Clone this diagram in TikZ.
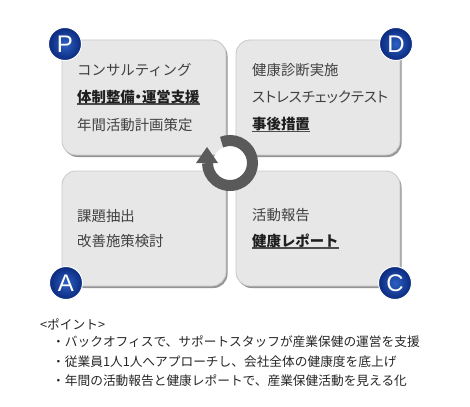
\documentclass[tikz,border=0pt]{standalone}
\usepackage{fontspec}
\usetikzlibrary{positioning,shadows}
\newfontfamily\jpfont{Noto Sans CJK JP}
\newfontfamily\jpprop{Noto Sans CJK JP}[RawFeature=+palt]
\newfontfamily\badgefont{Liberation Sans}
\definecolor{BoxFill}{RGB}{231,231,231}
\definecolor{BoxLine}{RGB}{200,200,200}
\definecolor{BadgeIn}{RGB}{45,95,195}
\definecolor{BadgeOut}{RGB}{10,42,125}
\definecolor{RingGray}{RGB}{90,90,90}
\definecolor{TextGray}{RGB}{64,64,64}
\newcommand\ulbf[1]{\setbox0\hbox{\bfseries\color{black!88}#1}%
  \rlap{\color{black!70}\rule[-2.6pt]{\wd0}{1.5pt}}\box0}

\begin{document}
\begin{tikzpicture}[
   x=1pt,y=-1pt,
   phase/.style={rectangle,rounded corners=14pt,draw=BoxLine,line width=0.8pt,
                 fill=BoxFill,minimum width=164pt,minimum height=115pt,
                 drop shadow={shadow xshift=1.5pt,shadow yshift=-2pt,fill=black!60,opacity=.7}},
   badge/.style={circle,minimum size=33pt,inner sep=0pt,shading=radial,
                 inner color=BadgeIn,outer color=BadgeOut,draw=white,line width=1pt,
                 text=white,font=\badgefont\fontsize{24}{24}\selectfont},
   txt/.style={anchor=west,inner sep=0pt,text height=0.88em,text depth=0.12em,
               text=TextGray,font=\jpfont\fontsize{14.4}{16}\selectfont},
   note/.style={anchor=west,inner sep=0pt,text height=0.88em,text depth=0.12em,
                text=black!85,font=\jpfont\fontsize{12.7}{14}\selectfont},
   cyc/.style={RingGray,line width=11pt}]
   \useasboundingbox (0,0) rectangle (470,406);
   \node[phase] (plan)  at (144,97.5)  {};
   \node[phase] (do)    at (318,97.5)  {};
   \node[phase] (act)   at (144,228.5) {};
   \node[phase] (check) at (318,228.5) {};

   \node[txt] (p1) at (77,72)   {コンサルティング};
   \node[txt] (p2) at (77,98.5) {\ulbf{体制整備{\jpprop ・}運営支援}};
   \node[txt] (p3) at (77,126.5) {年間活動計画策定};
   \node[txt] (d1) at (252,72)   {健康診断実施};
   \node[txt] (d2) at (252,98.5) {\jpprop ストレスチェックテスト};
   \node[txt] (d3) at (252,126)  {\ulbf{事後措置}};
   \node[txt] (a1) at (77,218)  {課題抽出};
   \node[txt] (a2) at (77,243)  {改善施策検討};
   \node[txt] (c1) at (252,217)   {活動報告};
   \node[txt] (c2) at (252,242.5) {\ulbf{健康レポート}};

   \begin{scope}[shift={(230,163)},y=1pt]
      \fill[white] (0,0) circle (17);
      \draw[cyc] (112:22.5) arc[start angle=112,end angle=-180,radius=22.5];
      \fill[RingGray] (-34,0) -- (-23,16) -- (-12,0) -- cycle;
   \end{scope}

   \node[badge] (bp) at (65,44)  {P};
   \node[badge] (bd) at (396,44) {D};
   \node[badge] (ba) at (66,283) {A};
   \node[badge] (bc) at (395,283) {C};

   \node[note] (head) at (40,326) {<ポイント>};
   \node[note] (pt1) at (52,343) {・バックオフィスで、サポートスタッフが産業保健の運営を支援};
   \node[note] (pt2) at (52,363) {・従業員1人1人へアプローチし、会社全体の健康度を底上げ};
   \node[note] (pt3) at (52,382) {・年間の活動報告と健康レポートで、産業保健活動を見える化};
\end{tikzpicture}
\end{document}
